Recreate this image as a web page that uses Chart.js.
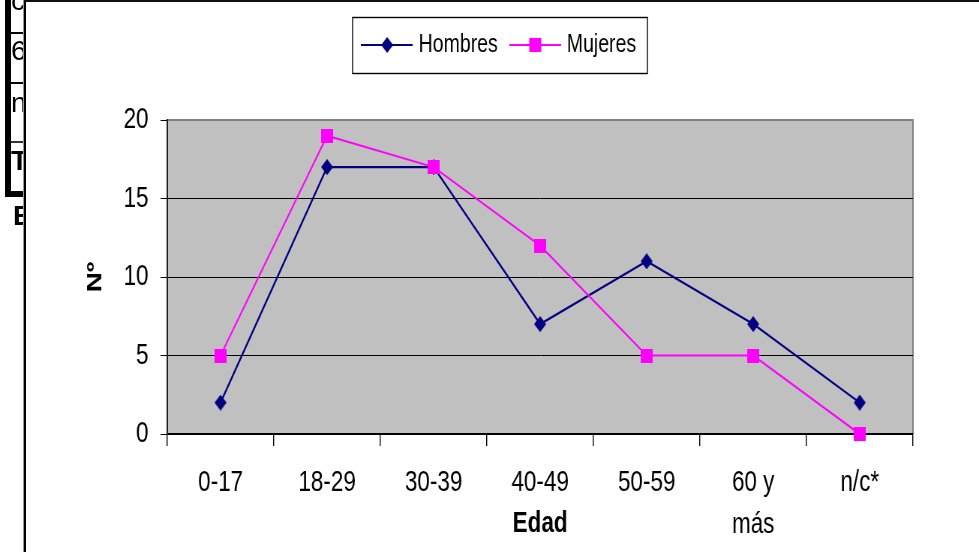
<!DOCTYPE html>
<html>
<head>
<meta charset="utf-8">
<script src="https://cdn.jsdelivr.net/npm/chart.js@4/dist/chart.umd.min.js"></script>
<style>
html,body{margin:0;padding:0;background:#fff;width:979px;height:552px;overflow:hidden;}
#holder{position:absolute;left:0;top:0;width:1305px;height:552px;transform:scaleX(0.750192);transform-origin:0 0;}
#c{position:absolute;left:0;top:0;}
.blk{position:absolute;background:#000;}
#side{position:absolute;left:0;top:0;width:24px;height:552px;overflow:hidden;font-family:"Liberation Sans",Arial,sans-serif;color:#000;}
#side span{position:absolute;left:11px;font-size:28px;line-height:28px;white-space:nowrap;}
</style>
</head>
<body>
<div id="holder"><canvas id="c" width="1305" height="552"></canvas></div>
<div id="side">
  <span style="top:-13px">c</span>
  <span style="top:37px">6</span>
  <span style="top:89px">n</span>
  <span style="top:147px;font-weight:bold">T</span>
  <span style="top:202px;left:13px;font-weight:bold">E</span>
  <div class="blk" style="left:5px;top:0;width:6px;height:197px"></div>
  <div class="blk" style="left:5px;top:191px;width:19px;height:6px"></div>
  <div class="blk" style="left:11px;top:32px;width:13px;height:2px"></div>
  <div class="blk" style="left:11px;top:82px;width:13px;height:2px"></div>
  <div class="blk" style="left:11px;top:141px;width:13px;height:2px;background:#333"></div>
</div>
<div class="blk" style="left:23px;top:0;width:1px;height:552px;background:#999"></div>
<div class="blk" style="left:24px;top:0;width:2px;height:552px"></div>
<div class="blk" style="left:24px;top:0;width:955px;height:2px;background:#111"></div>
<script>
const categories = ['0-17', '18-29', '30-39', '40-49', '50-59', ['60 y', 'más'], 'n/c*'];
const hombres = [2, 17, 17, 7, 11, 7, 2];
const mujeres = [5, 19, 17, 12, 5, 5, 0];
const seriesNames = ['Hombres', 'Mujeres'];
const yTicks = [0, 5, 10, 15, 20];
const xTitle = 'Edad';
const yTitle = 'Nº';

const NAVY = '#000080';
const MAG = '#FF00FF';
const FONT = '"Liberation Sans", Arial, sans-serif';

function makeCanvas(w, h) { const c = document.createElement('canvas'); c.width = w; c.height = h; return c; }
function diamond(w, h, color) {
  const c = makeCanvas(w, h), x = c.getContext('2d');
  x.fillStyle = color; x.beginPath();
  x.moveTo(w / 2, 0); x.lineTo(w, h / 2); x.lineTo(w / 2, h); x.lineTo(0, h / 2); x.closePath(); x.fill();
  return c;
}
function square(w, h, color) {
  const c = makeCanvas(w, h), x = c.getContext('2d');
  x.fillStyle = color; x.fillRect(0, 0, w, h);
  return c;
}
function legendIcon(marker, color, lw) {
  const W = 69, H = 18;
  const c = makeCanvas(W, H), x = c.getContext('2d');
  x.strokeStyle = color; x.lineWidth = lw;
  x.beginPath(); x.moveTo(0, H / 2); x.lineTo(W, H / 2); x.stroke();
  x.drawImage(marker, Math.round((W - marker.width) / 2), Math.round((H - marker.height) / 2));
  return c;
}
const mkH = diamond(16, 16, NAVY);
const mkM = square(16, 14, MAG);
const iconH = legendIcon(mkH, NAVY, 2);
const iconM = legendIcon(mkM, MAG, 2);

const plotBg = {
  id: 'plotBg',
  beforeDraw(chart) {
    const { ctx, chartArea: a } = chart;
    ctx.save();
    ctx.fillStyle = '#C0C0C0';
    ctx.fillRect(a.left, a.top, a.right - a.left, a.bottom - a.top);
    ctx.strokeStyle = '#808080';
    ctx.lineWidth = 2;
    ctx.beginPath();
    ctx.moveTo(a.left, a.top); ctx.lineTo(a.right, a.top); ctx.lineTo(a.right, a.bottom);
    ctx.stroke();
    ctx.restore();
  }
};
const legendBox = {
  id: 'legendBox',
  afterDraw(chart) {
    const hb = chart.legend && chart.legend.legendHitBoxes;
    if (!hb || !hb.length) return;
    const ctx = chart.ctx;
    const last = hb[hb.length - 1];
    const l = hb[0].left - 5 - 11, r = last.left + last.width + 15;
    const cy = hb[0].top + hb[0].height / 2;
    ctx.save();
    ctx.strokeStyle = '#000'; ctx.lineWidth = 1.4;
    ctx.strokeRect(Math.round(l), Math.round(cy - 28) + 0.5, Math.round(r - l), 56);
    ctx.restore();
  }
};

new Chart(document.getElementById('c'), {
  type: 'line',
  data: {
    labels: categories,
    datasets: [
      { label: seriesNames[0], data: hombres, borderColor: NAVY, backgroundColor: NAVY, borderWidth: 2.2,
        pointStyle: mkH, pointRadius: 8, tension: 0, clip: false, order: 1 },
      { label: seriesNames[1], data: mujeres, borderColor: MAG, backgroundColor: MAG, borderWidth: 2,
        pointStyle: mkM, pointRadius: 8, tension: 0, clip: false, order: 0 }
    ]
  },
  options: {
    responsive: false,
    animation: false,
    devicePixelRatio: 1,
    events: [],
    layout: { padding: { left: 32, right: 3, top: 12, bottom: 0 } },
    plugins: {
      tooltip: { enabled: false },
      title: { display: false },
      legend: {
        display: true,
        position: 'top',
        align: 'center',
        labels: {
          usePointStyle: true,
          pointStyleWidth: 59,
          padding: 20,
          color: '#000',
          font: { family: FONT, size: 26 },
          generateLabels: () => [
            { text: seriesNames[0], pointStyle: iconH, fillStyle: NAVY, strokeStyle: NAVY, lineWidth: 0, hidden: false, datasetIndex: 0, fontColor: '#000' },
            { text: seriesNames[1], pointStyle: iconM, fillStyle: MAG, strokeStyle: MAG, lineWidth: 0, hidden: false, datasetIndex: 1, fontColor: '#000' }
          ]
        }
      }
    },
    scales: {
      x: {
        type: 'category',
        position: 'bottom',
        offset: true,
        grid: { offset: true, drawOnChartArea: false, drawTicks: true, tickLength: 12, color: '#000', tickColor: '#000', lineWidth: 1.4 },
        border: { display: true, color: '#000', width: 2 },
        ticks: { color: '#000', font: { family: FONT, size: 30, lineHeight: 1.4 }, padding: 16, maxRotation: 0, minRotation: 0, autoSkip: false },
        title: { display: true, text: xTitle, color: '#000', font: { family: FONT, size: 30, weight: 'bold', lineHeight: 1.2 }, padding: { top: 0, bottom: 10 } },
        afterFit(s) { s.height = 118; }
      },
      y: {
        type: 'linear',
        position: 'left',
        min: 0, max: 20,
        afterBuildTicks(s) { s.ticks = yTicks.map(v => ({ value: v })); },
        ticks: { color: '#000', font: { family: FONT, size: 30 }, padding: 16 },
        grid: { color: c => (c.tick && c.tick.value === 20 ? '#808080' : '#000'), tickColor: '#000', tickLength: 9, lineWidth: 1 },
        border: { display: true, color: '#222', width: 2 },
        title: { display: true, text: yTitle, color: '#000', font: { family: FONT, size: 28, weight: 'bold', lineHeight: 1.2 }, padding: { top: 78, bottom: 0 } },
        afterFit(s) { s.width = 191; }
      },
      topSpacer: {
        type: 'linear', position: 'top', display: true,
        grid: { display: false }, border: { display: false }, ticks: { display: false },
        afterFit(s) { s.height = 52; }
      },
      rightSpacer: {
        type: 'linear', position: 'right', display: true,
        grid: { display: false }, border: { display: false }, ticks: { display: false },
        afterFit(s) { s.width = 85; }
      }
    }
  },
  plugins: [plotBg, legendBox]
});
</script>
</body>
</html>
